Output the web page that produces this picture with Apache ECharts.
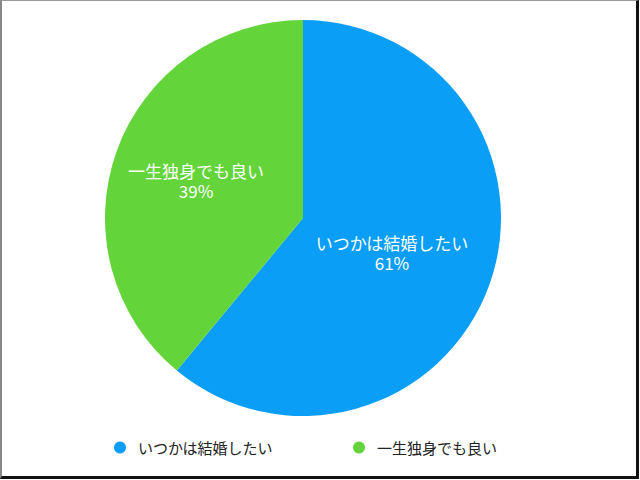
<!DOCTYPE html>
<html>
<head>
<meta charset="utf-8">
<script src="https://cdn.jsdelivr.net/npm/echarts@6/dist/echarts.min.js"></script>
<style>
  html, body { margin: 0; padding: 0; background: #fff; }
  #frame {
    position: absolute; left: 0; top: 0; width: 639px; height: 479px;
    box-sizing: border-box;
    border-top: 1px solid #999; border-left: 2px solid #888;
    border-right: 3px solid #111; border-bottom: 3px solid #111;
  }
  #chart { position: absolute; left: 0; top: 0; width: 640px; height: 480px; }
</style>
</head>
<body>
<div id="chart"></div>
<div id="frame"></div>
<script>
// data
const categories = ['いつかは結婚したい', '一生独身でも良い']
const values = [61, 39]
const colors = ['#0A9EF7', '#63D43A']
// label nudges from the default inside spot
const labelOffsets = [[-7, 0], [-11, -3]]

const chart = echarts.init(document.getElementById('chart'), null, { renderer: 'svg' })

const font = '"Noto Sans CJK JP", "Noto Sans", sans-serif'

chart.setOption({
    animation: false,
    legend: {
        data: categories,
        left: 109,
        top: 435,
        icon: 'circle',
        itemWidth: 12,
        itemHeight: 12,
        itemGap: 80,
        textStyle: {
            fontFamily: font,
            fontSize: 15,
            color: '#222',
            padding: [0, 0, 0, 7],
        },
    },
    series: [{
        type: 'pie',
        center: [303, 218],
        radius: [0, 198],
        startAngle: 90,
        clockwise: true,
        label: {
            show: true,
            position: 'inside',
            formatter: '{b}\n{c}%',
            color: '#fff',
            fontFamily: font,
            fontSize: 17,
            lineHeight: 20,
            align: 'center',
        },
        labelLine: { show: false },
        emphasis: { disabled: true },
        itemStyle: { borderWidth: 0 },
        data: categories.map((name, i) => ({
            name: name,
            value: values[i],
            itemStyle: { color: colors[i] },
            label: { offset: labelOffsets[i] },
        })),
    }],
})
</script>
</body>
</html>
